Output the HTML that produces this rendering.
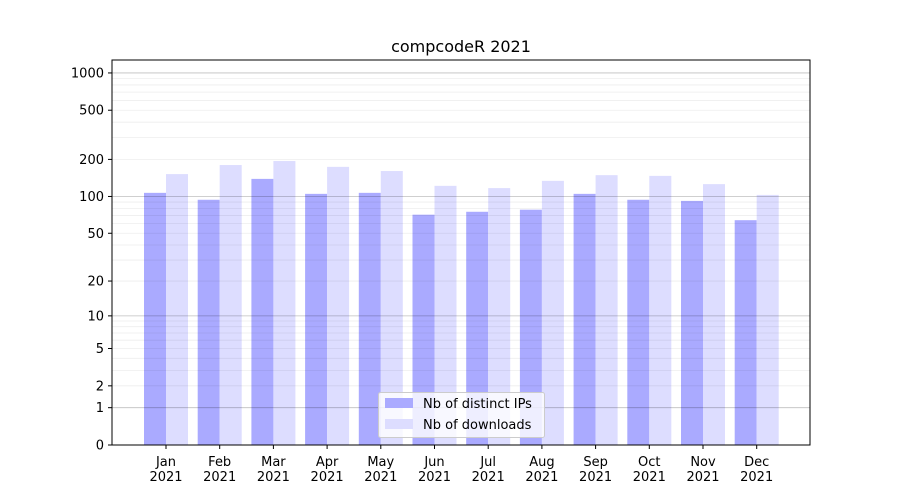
<!DOCTYPE html>
<html><head><meta charset="utf-8"><style>
body{margin:0;background:#fff;}
svg{display:block;font-family:"DejaVu Sans","Liberation Sans",sans-serif;}
</style></head><body>
<svg id="s" width="900" height="500" xmlns="http://www.w3.org/2000/svg">
<rect width="900" height="500" fill="#fff"/>
<g id="bars"></g>
<g id="grid"></g>
<rect x="112" y="60" width="698" height="385" fill="none" stroke="#000" stroke-width="1"/>
<g id="ticks" font-size="13" fill="#000"></g>
<text x="461" y="52" font-size="16" text-anchor="middle">compcodeR 2021</text>
<g>
<rect x="378.5" y="392.5" width="166" height="45" rx="2" fill="#fff" fill-opacity="0.8" stroke="#ccc"/>
<rect x="385" y="398" width="28" height="10" fill="#aaaaff"/>
<rect x="385" y="419" width="28" height="10" fill="#ddddff"/>
<text x="423" y="408" font-size="13">Nb of distinct IPs</text>
<text x="423" y="429" font-size="13">Nb of downloads</text>
</g>
</svg>
<script>
const ns="http://www.w3.org/2000/svg";
function Y(v){return 445-124*Math.log10(v+1);}
function el(p,t,a,txt){const e=document.createElementNS(ns,t);for(const k in a)e.setAttribute(k,a[k]);if(txt!==undefined)e.textContent=txt;document.getElementById(p).appendChild(e);return e;}
for(let d of [1,10,100,1000]){for(let m=2;m<=9;m++){let v=d*m;let y=Y(v);if(y<60)continue;el("grid","line",{x1:112,x2:810,y1:y,y2:y,stroke:"#000","stroke-opacity":0.07,"stroke-width":0.8});}}
for(let v of [1,10,100,1000]){let y=Y(v);el("grid","line",{x1:112,x2:810,y1:y,y2:y,stroke:"#000","stroke-opacity":0.25,"stroke-width":0.8});}
const ip=[107,94,139,105,107,71,75,78,105,94,92,64];
const dl=[152,180,194,174,161,122,117,134,149,147,126,103];
const mo=["Jan","Feb","Mar","Apr","May","Jun","Jul","Aug","Sep","Oct","Nov","Dec"];
for(let i=0;i<12;i++){
 let c=166+i*53.7;
 el("bars","rect",{x:c-22,y:Y(ip[i]),width:22,height:445-Y(ip[i]),fill:"#aaaaff"});
 el("bars","rect",{x:c,y:Y(dl[i]),width:22,height:445-Y(dl[i]),fill:"#ddddff"});
 el("ticks","line",{x1:c,x2:c,y1:445,y2:449,stroke:"#000"});
 el("ticks","text",{x:c,y:466,"text-anchor":"middle"},mo[i]);
 el("ticks","text",{x:c,y:481,"text-anchor":"middle"},"2021");
}
for(let v of [0,1,2,5,10,20,50,100,200,500,1000]){let y=Y(v);
 el("ticks","line",{x1:108,x2:112,y1:y,y2:y,stroke:"#000"});
 el("ticks","text",{x:104,y:y+4.5,"text-anchor":"end"},String(v));}
</script>
</body></html>
